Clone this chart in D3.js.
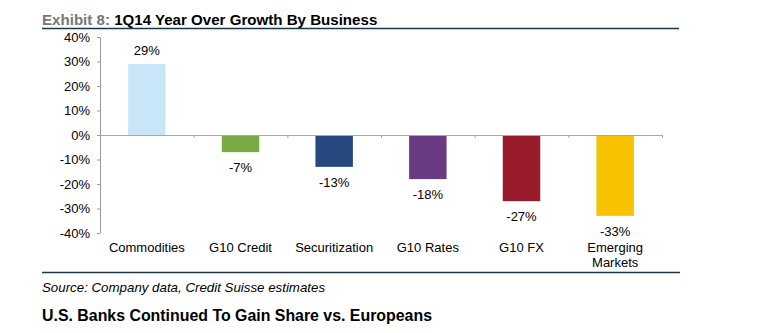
<!doctype html>
<html lang="en">
<head>
<meta charset="utf-8">
<title>1Q14 Year Over Growth By Business</title>
<script src="https://d3js.org/d3.v7.min.js"></script>
<style>
  body { margin: 0; background: #fff; }
  svg { display: block; font-family: "Liberation Sans", Arial, Helvetica, sans-serif; }
  .axis_y text { font-size: 13px; fill: #000; }
  .axis_y path, .axis_y line { stroke: #999; }
  .axis_zero path, .axis_zero line { stroke: #a8a8a8; }
</style>
</head>
<body>
<svg id="main" width="760" height="333"></svg>
<script>
// data
let categories = ['Commodities', 'G10 Credit', 'Securitization', 'G10 Rates', 'G10 FX', 'Emerging Markets'];
let categoryLines = [['Commodities'], ['G10 Credit'], ['Securitization'], ['G10 Rates'], ['G10 FX'], ['Emerging', 'Markets']];
let growth = [29, -7, -13, -18, -27, -33];
let barColors = ['#c8e6f7', '#77ab44', '#26487f', '#6a3b82', '#9a1c2c', '#f7c300'];
let yTicks = [40, 30, 20, 10, 0, -10, -20, -30, -40];

let svg = d3.select('#main');
let x_range = [100, 662];
let y_range = [233, 37];

let x_scale = d3.scaleBand().domain(categories).range(x_range).paddingInner(0.6).paddingOuter(0.3);
let y_scale = d3.scaleLinear().domain([-40, 40]).range(y_range);
// band boundaries for the little ticks on the zero line
let x_slots = d3.scaleLinear().domain([0, categories.length]).range(x_range);

// title
let title = svg.append('text').attr('x', 42).attr('y', 25)
    .attr('font-size', 15.1).attr('font-weight', 'bold');
title.append('tspan').attr('fill', '#777').text('Exhibit 8: ');
title.append('tspan').attr('fill', '#000').text('1Q14 Year Over Growth By Business');

svg.append('line').attr('x1', 42).attr('x2', 679).attr('y1', 28.5).attr('y2', 28.5)
    .attr('stroke', '#1d3646').attr('stroke-width', 1.5);

// y axis
svg.append('g')
    .attr('class', 'axis_y')
    .attr('transform', 'translate(' + x_range[0] + ',0)')
    .call(d3.axisLeft(y_scale).tickValues(yTicks).tickSize(3).tickSizeOuter(0).tickPadding(7)
        .tickFormat(d => d + '%'));

// bars
svg.selectAll('.bar').data(growth).join('rect')
    .attr('class', 'bar')
    .attr('x', (d, i) => x_scale(categories[i]))
    .attr('width', x_scale.bandwidth())
    .attr('y', d => y_scale(Math.max(0, d)))
    .attr('height', d => Math.abs(y_scale(d) - y_scale(0)))
    .attr('fill', (d, i) => barColors[i]);

// zero line with ticks between categories
svg.append('g')
    .attr('class', 'axis_zero')
    .attr('transform', 'translate(0,' + y_scale(0) + ')')
    .call(d3.axisBottom(x_slots).tickValues(d3.range(1, categories.length + 1)).tickSize(3).tickSizeOuter(0).tickFormat(''));

// value labels
svg.selectAll('.val').data(growth).join('text')
    .attr('class', 'val')
    .attr('x', (d, i) => x_scale(categories[i]) + x_scale.bandwidth() / 2)
    .attr('y', d => d >= 0 ? y_scale(d) - 9 : y_scale(d) + 20)
    .attr('text-anchor', 'middle')
    .attr('font-size', 13)
    .text(d => d + '%');

// category labels
let cat = svg.selectAll('.cat').data(categoryLines).join('text')
    .attr('class', 'cat')
    .attr('text-anchor', 'middle')
    .attr('font-size', 13)
    .attr('y', 252);
cat.selectAll('tspan').data((d, i) => d.map(s => ({ s: s, i: i }))).join('tspan')
    .attr('x', d => x_scale(categories[d.i]) + x_scale.bandwidth() / 2)
    .attr('dy', (d, j) => j === 0 ? 0 : 15)
    .text(d => d.s);

svg.append('line').attr('x1', 42).attr('x2', 680).attr('y1', 272.5).attr('y2', 272.5)
    .attr('stroke', '#1d3646').attr('stroke-width', 1.5);

svg.append('text').attr('x', 42).attr('y', 292)
    .attr('font-size', 13.3).attr('font-style', 'italic').attr('fill', '#000')
    .text('Source: Company data, Credit Suisse estimates');

svg.append('text').attr('x', 42).attr('y', 321)
    .attr('font-size', 15.9).attr('font-weight', 'bold').attr('fill', '#000')
    .text('U.S. Banks Continued To Gain Share vs. Europeans');
</script>
</body>
</html>
